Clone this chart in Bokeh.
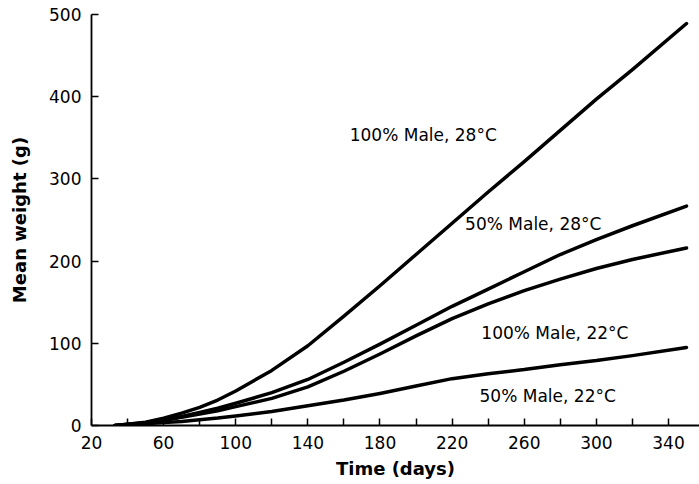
from bokeh.plotting import figure
from bokeh.models import FixedTicker, Range1d, ColumnDataSource
from bokeh.core.properties import value
from bokeh.embed import file_html
from bokeh.resources import INLINE

# ---- data ----
days = [33, 40, 50, 60, 70, 80, 90, 100, 120, 140, 160, 180, 200, 220, 240, 260, 280, 300, 320, 350]
male100_28 = [0, 1.5, 4, 9, 15, 22, 31, 42, 67, 97, 133, 170, 208, 246, 284, 321, 359, 397, 433, 489]
male50_28 = [0, 1.5, 3.5, 7, 11, 16, 21, 27, 40, 56, 77, 99, 122, 145, 166, 187, 208, 226, 243, 267]
male100_22 = [0, 1.2, 3, 6, 10, 14, 18, 23, 33, 47, 66, 87, 109, 130, 148, 164, 178, 191, 202, 216]
male50_22 = [0, 0.7, 2, 3.5, 5, 7, 9, 11.5, 17, 24, 31, 39, 48, 57, 63, 68, 74, 79, 85, 95]

label_texts = ["100% Male, 28°C", "50% Male, 28°C", "100% Male, 22°C", "50% Male, 22°C"]
label_x = [204, 265, 277, 273]
label_y = [353, 245, 112, 36]

x_major = [20, 60, 100, 140, 180, 220, 260, 300, 340]
x_minor = [40, 80, 120, 160, 200, 240, 280, 320]
y_ticks = [0, 100, 200, 300, 400, 500]

FONT = "DejaVu Sans"

p = figure(width=699, height=484, output_backend="svg", toolbar_location=None,
           x_range=Range1d(20, 357.2), y_range=Range1d(0, 500),
           min_border_left=91, min_border_right=0, min_border_top=14,
           min_border_bottom=59)
p.outline_line_color = None
p.xgrid.visible = False
p.ygrid.visible = False
p.background_fill_color = "white"
p.border_fill_color = "white"

for ys in [male100_28, male50_28, male100_22, male50_22]:
    p.line(days, ys, line_color="black", line_width=3.5, line_cap="round",
           line_join="round")

src = ColumnDataSource(dict(x=label_x, y=label_y, t=label_texts))
p.text(x="x", y="y", text="t", source=src, text_align="center",
       text_baseline="middle", text_font=value(FONT), text_font_size="17px",
       text_color="black")

# x axis
xa = p.xaxis[0]
xa.ticker = FixedTicker(ticks=x_major, minor_ticks=x_minor)
xa.major_tick_in = 7
xa.major_tick_out = 0
xa.minor_tick_in = 7
xa.minor_tick_out = 0
xa.axis_line_width = 1.8
xa.major_tick_line_width = 1.5
xa.minor_tick_line_width = 1.5
xa.major_label_text_font = FONT
xa.major_label_text_font_size = "17px"
xa.major_label_text_color = "black"
xa.major_label_standoff = 10
xa.axis_label = "Time (days)"
xa.axis_label_text_font = FONT
xa.axis_label_text_font_style = "bold"
xa.axis_label_text_font_size = "18px"
xa.axis_label_text_color = "black"
xa.axis_label_standoff = 6

# y axis
ya = p.yaxis[0]
ya.ticker = FixedTicker(ticks=y_ticks)
ya.major_tick_in = 7
ya.major_tick_out = 0
ya.minor_tick_in = 0
ya.minor_tick_out = 0
ya.axis_line_width = 1.8
ya.major_tick_line_width = 1.5
ya.major_label_text_font = FONT
ya.major_label_text_font_size = "17px"
ya.major_label_text_color = "black"
ya.major_label_standoff = 10
ya.axis_label = "Mean weight (g)"
ya.axis_label_text_font = FONT
ya.axis_label_text_font_style = "bold"
ya.axis_label_text_font_size = "18px"
ya.axis_label_text_color = "black"
ya.axis_label_standoff = 16

open("out.html", "w").write(file_html(p, INLINE))
